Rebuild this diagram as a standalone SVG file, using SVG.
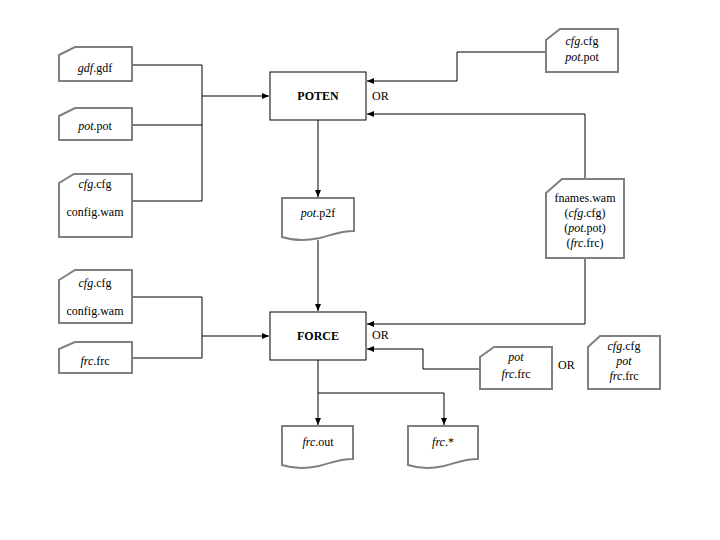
<svg xmlns="http://www.w3.org/2000/svg" width="720" height="540" viewBox="0 0 720 540">
<style>
.card,.doc{fill:#fff;stroke:#808080;stroke-width:2;stroke-linejoin:miter}
.box{fill:#fff;stroke:#000;stroke-width:1}
.ln{fill:none;stroke:#000;stroke-width:1}
text{font-family:'Liberation Serif','Times New Roman','DejaVu Serif',serif;font-size:12px;fill:#000}
.c{text-anchor:middle}
.b{font-weight:bold}
.i{font-style:italic}
</style>
<defs>
<marker id="ah" markerUnits="userSpaceOnUse" markerWidth="8" markerHeight="8" refX="7" refY="4" orient="auto">
<path d="M0,1 L7,4 L0,7 Z" fill="#000"/>
</marker>
</defs>
<rect width="720" height="540" fill="#fff"/>
<g id="connectors">
<path class="ln" d="M132,65 H202 M132,125 H202 M132,201 H202 M202,65 V201"/>
<path class="ln" d="M202,96 H269" marker-end="url(#ah)"/>
<path class="ln" d="M546,52 H457 V81 H367" marker-end="url(#ah)"/>
<path class="ln" d="M585,179 V114 H367" marker-end="url(#ah)"/>
<path class="ln" d="M585,258 V324 H367" marker-end="url(#ah)"/>
<path class="ln" d="M318,120 V197" marker-end="url(#ah)"/>
<path class="ln" d="M318,240 V311" marker-end="url(#ah)"/>
<path class="ln" d="M132,297 H202 M132,358 H202 M202,297 V358"/>
<path class="ln" d="M202,336 H269" marker-end="url(#ah)"/>
<path class="ln" d="M480,369 H423 V349 H367" marker-end="url(#ah)"/>
<path class="ln" d="M318,360 V393 H444 V425" marker-end="url(#ah)"/>
<path class="ln" d="M318,393 V425" marker-end="url(#ah)"/>
</g>
<g id="gdf">
<path class="card" d="M59,55 L75,47 H132 V81 H59 Z"/>
<text class="c" x="95" y="72"><tspan class="i">gdf</tspan>.gdf</text>
</g>
<g id="pot">
<path class="card" d="M59,116 L75,108 H132 V140 H59 Z"/>
<text class="c" x="95" y="130"><tspan class="i">pot</tspan>.pot</text>
</g>
<g id="cfg1">
<path class="card" d="M59,183 L74,174 H132 V237 H59 Z"/>
<text class="c" x="95" y="188"><tspan class="i">cfg</tspan>.cfg</text>
<text class="c" x="95" y="216">config.wam</text>
</g>
<g id="poten">
<rect class="box" x="270" y="72" width="96" height="48"/>
<text class="c b" x="318" y="100">POTEN</text>
</g>
<text x="372" y="100">OR</text>
<g id="cfgpot">
<path class="card" d="M546,40 L560,29 H618 V72 H546 Z"/>
<text class="c" x="582" y="45"><tspan class="i">cfg</tspan>.cfg</text>
<text class="c" x="582" y="61"><tspan class="i">pot</tspan>.pot</text>
</g>
<g id="fnames">
<path class="card" d="M546,193 L562,179 H624 V258 H546 Z"/>
<text class="c" x="585" y="202">fnames.wam</text>
<text class="c" x="585" y="217">(<tspan class="i">cfg</tspan>.cfg)</text>
<text class="c" x="585" y="232">(<tspan class="i">pot</tspan>.pot)</text>
<text class="c" x="585" y="247">(<tspan class="i">frc</tspan>.frc)</text>
</g>
<g id="p2f">
<path class="doc" d="M282,198 H354 V231 C340,231 332,235 320,238 C306,241 294,241 282,237 Z"/>
<text class="c" x="318" y="217"><tspan class="i">pot</tspan>.p2f</text>
</g>
<g id="cfg2">
<path class="card" d="M59,280 L75,270 H132 V323 H59 Z"/>
<text class="c" x="95" y="287"><tspan class="i">cfg</tspan>.cfg</text>
<text class="c" x="95" y="315">config.wam</text>
</g>
<g id="frc">
<path class="card" d="M59,349 L75,342 H132 V373 H59 Z"/>
<text class="c" x="95" y="365"><tspan class="i">frc</tspan>.frc</text>
</g>
<g id="force">
<rect class="box" x="270" y="312" width="96" height="48"/>
<text class="c b" x="318" y="340">FORCE</text>
</g>
<text x="372" y="339">OR</text>
<g id="potfrc">
<path class="card" d="M480,357 L494,347 H552 V389 H480 Z"/>
<text class="c i" x="516" y="361">pot</text>
<text class="c" x="516" y="378"><tspan class="i">frc</tspan>.frc</text>
</g>
<text x="558" y="369">OR</text>
<g id="cfgpotfrc">
<path class="card" d="M588,347 L600,336 H660 V389 H588 Z"/>
<text class="c" x="624" y="350"><tspan class="i">cfg</tspan>.cfg</text>
<text class="c i" x="624" y="365">pot</text>
<text class="c" x="624" y="380"><tspan class="i">frc</tspan>.frc</text>
</g>
<g id="frcout">
<path class="doc" d="M282,426 H353 V459 C339,459 331,463 319,466 C305,469 294,469 282,465 Z"/>
<text class="c" x="318" y="446"><tspan class="i">frc</tspan>.out</text>
</g>
<g id="frcstar">
<path class="doc" d="M408,426 H478 V459 C464,459 456,463 444,466 C430,469 420,469 408,465 Z"/>
<text class="c" x="443" y="446"><tspan class="i">frc</tspan>.*</text>
</g>
</svg>
